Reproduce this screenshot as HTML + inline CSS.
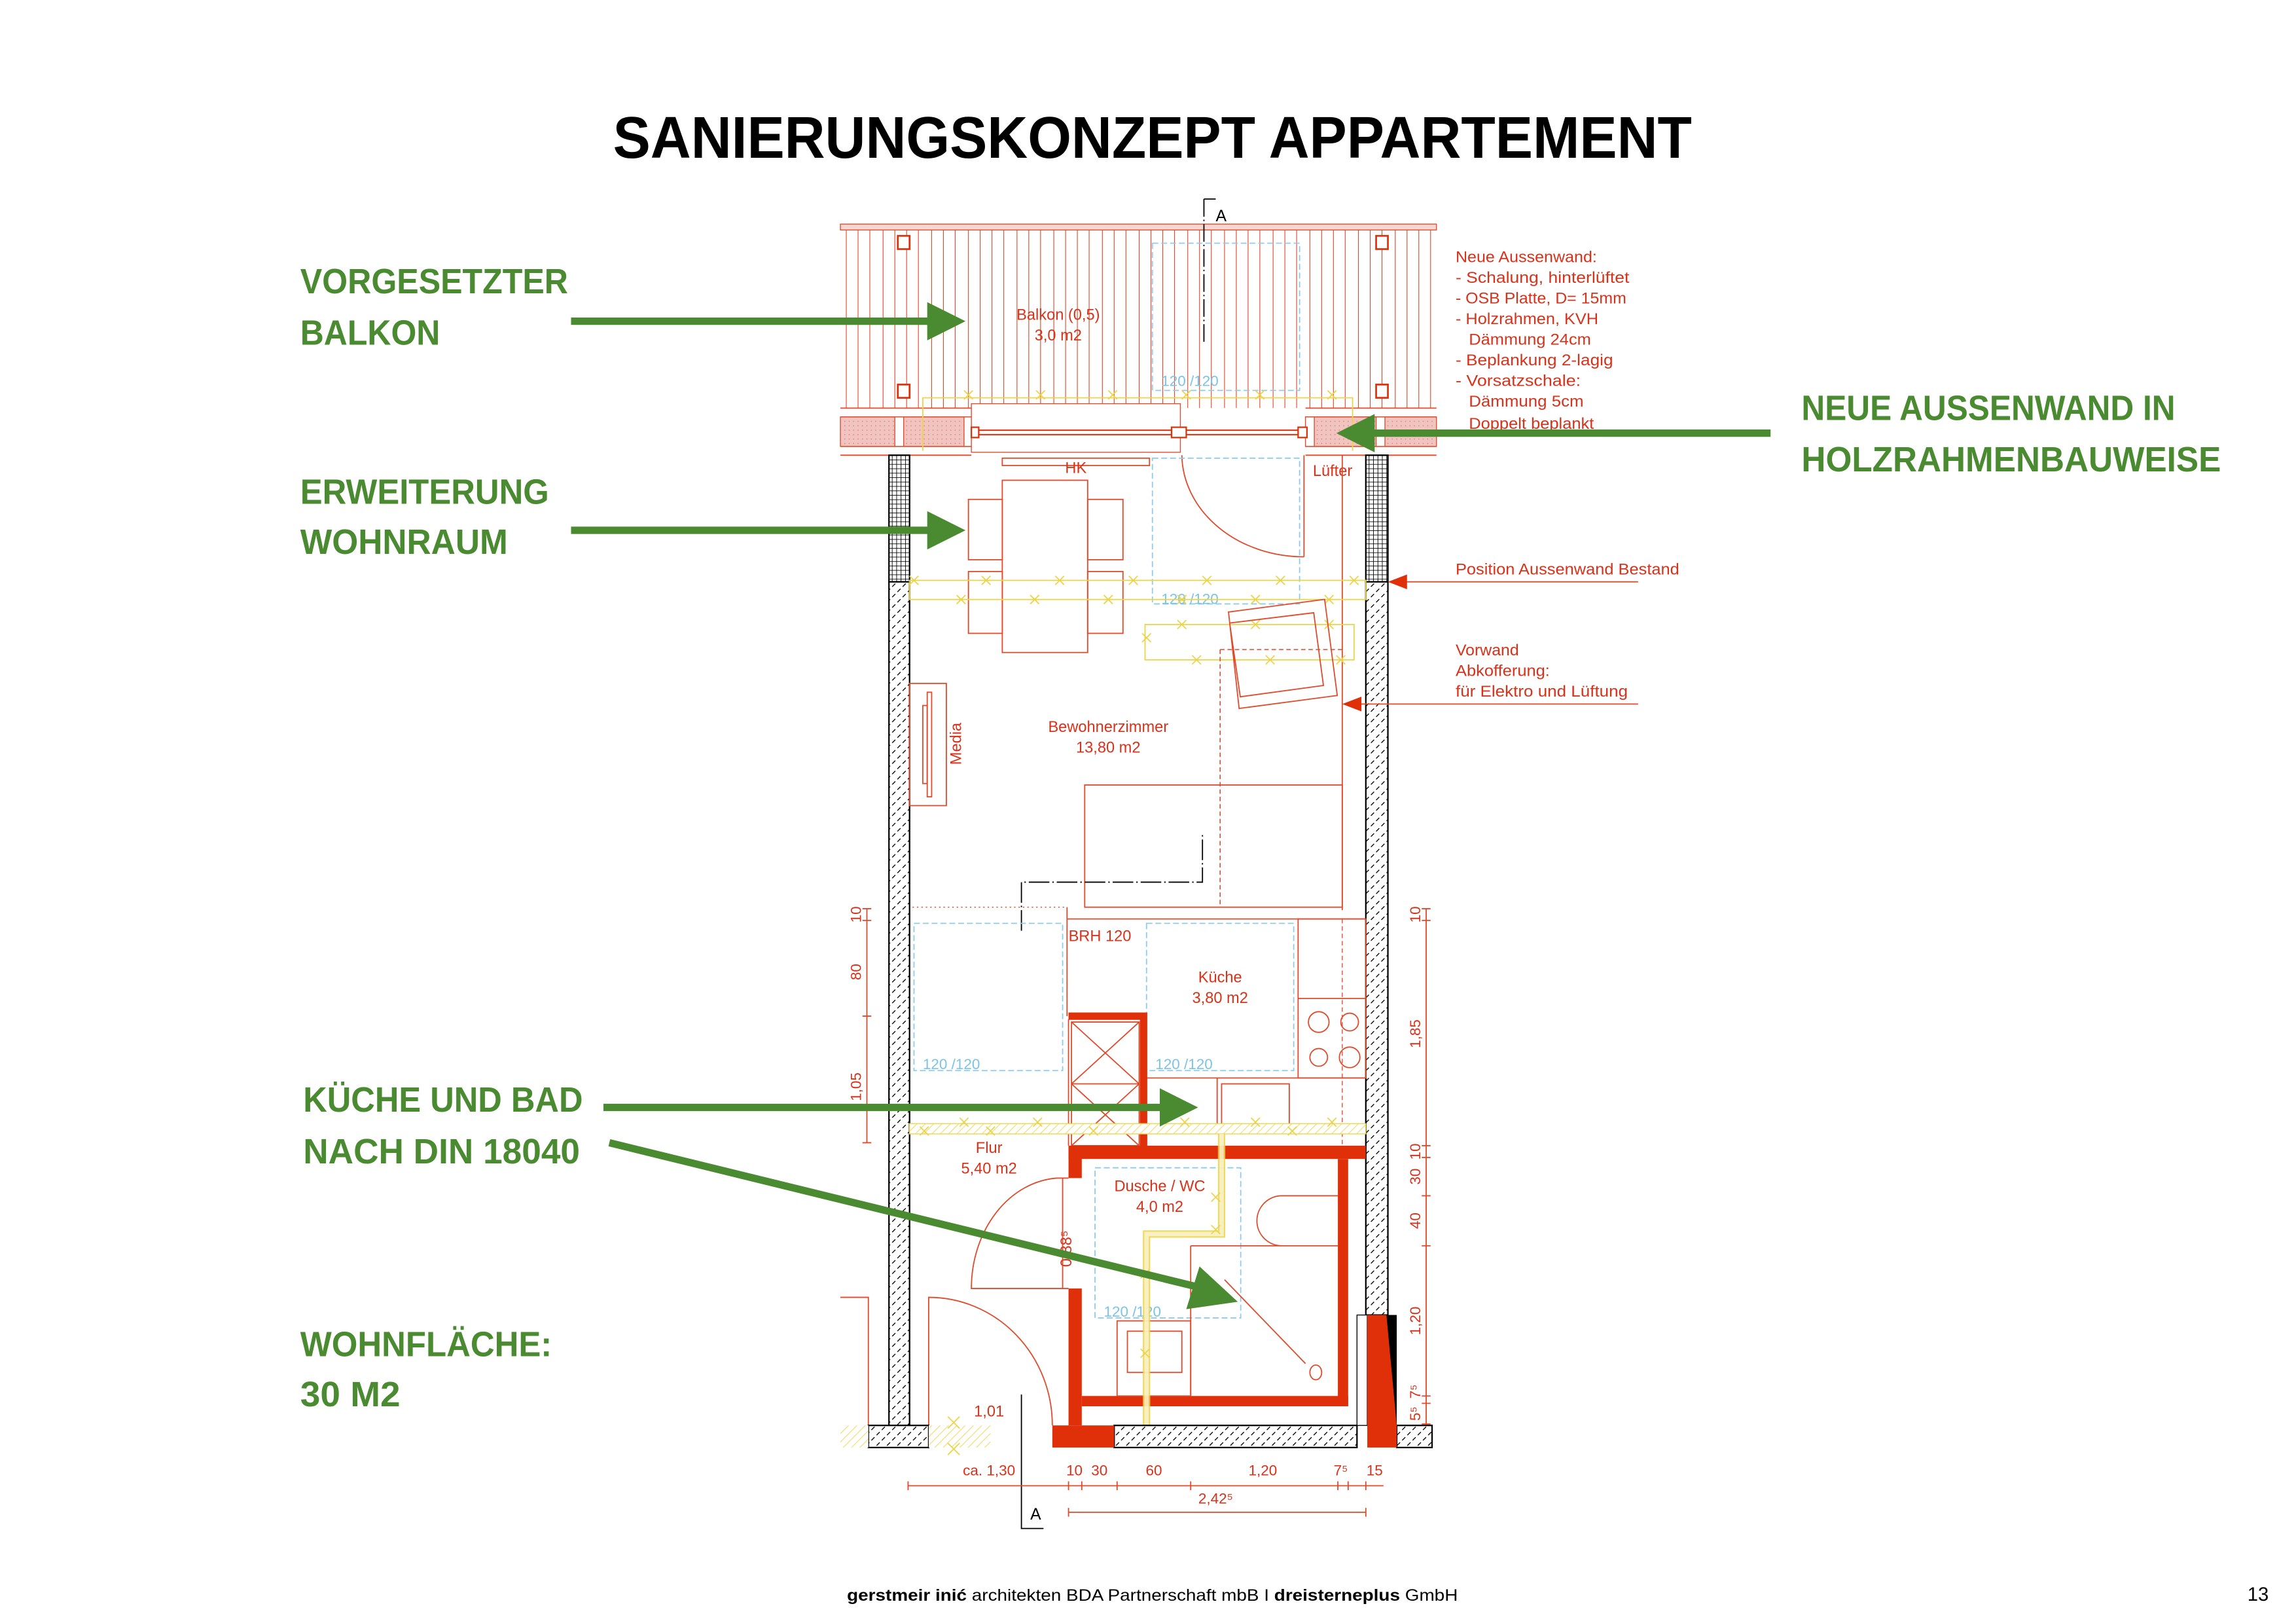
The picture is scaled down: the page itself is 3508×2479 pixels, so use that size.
<!DOCTYPE html>
<html><head><meta charset="utf-8"><style>
html,body{margin:0;padding:0;background:#fff}
svg{display:block}
text{font-family:"Liberation Sans Narrow","Liberation Sans",sans-serif}
.g{fill:#4a8a30;font-weight:bold;font-size:24px}
.r{fill:#d8321a;font-size:10.5px}
.rs{fill:#d8321a;font-size:10px}
.b{fill:#7cc3e6;font-size:10px}
.ln{stroke:#e04a2a;stroke-width:0.8;fill:none}
.bl{stroke:#8fcbea;stroke-width:0.8;fill:none;stroke-dasharray:4 2}
.y{stroke:#ecd44a;stroke-width:0.8;fill:none}
</style></head><body>
<svg width="3508" height="2479" viewBox="0 0 1560 1102" xmlns="http://www.w3.org/2000/svg">
<defs>
<pattern id="h" width="5" height="5" patternUnits="userSpaceOnUse" patternTransform="rotate(45)">
<rect width="5" height="5" fill="#fff"/><line x1="0" y1="0" x2="0" y2="5" stroke="#000" stroke-width="1.2" stroke-dasharray="3 2"/></pattern>
<pattern id="gr" width="3" height="3" patternUnits="userSpaceOnUse"><rect width="3" height="3" fill="#fff"/><path d="M0 0H3M0 0V3" stroke="#000" stroke-width="0.8"/></pattern>
<pattern id="pk" width="3" height="3" patternUnits="userSpaceOnUse"><rect width="3" height="3" fill="#f2c4c0"/><circle cx="1" cy="1" r="0.4" fill="#d88"/></pattern>
<pattern id="yh" width="4" height="4" patternUnits="userSpaceOnUse" patternTransform="rotate(45)"><rect width="4" height="4" fill="#fff"/><line x1="0" y1="0" x2="0" y2="4" stroke="#ecd44a" stroke-width="0.8"/></pattern>
</defs>

<text x="783" y="107" text-anchor="middle" font-family="Liberation Sans" font-weight="bold" font-size="40" textLength="733" lengthAdjust="spacingAndGlyphs" fill="#000">SANIERUNGSKONZEPT APPARTEMENT</text>

<text class="g" x="204" y="199" textLength="182" lengthAdjust="spacingAndGlyphs">VORGESETZTER</text>
<text class="g" x="204" y="234" textLength="95" lengthAdjust="spacingAndGlyphs">BALKON</text>
<text class="g" x="204" y="342" textLength="169" lengthAdjust="spacingAndGlyphs">ERWEITERUNG</text>
<text class="g" x="204" y="376" textLength="141" lengthAdjust="spacingAndGlyphs">WOHNRAUM</text>
<text class="g" x="206" y="755" textLength="190" lengthAdjust="spacingAndGlyphs">KÜCHE UND BAD</text>
<text class="g" x="206" y="790" textLength="188" lengthAdjust="spacingAndGlyphs">NACH DIN 18040</text>
<text class="g" x="204" y="921" textLength="171" lengthAdjust="spacingAndGlyphs">WOHNFLÄCHE:</text>
<text class="g" x="204" y="955" textLength="68" lengthAdjust="spacingAndGlyphs">30 M2</text>
<text class="g" x="1224" y="285" textLength="254" lengthAdjust="spacingAndGlyphs">NEUE AUSSENWAND IN</text>
<text class="g" x="1224" y="320" textLength="285" lengthAdjust="spacingAndGlyphs">HOLZRAHMENBAUWEISE</text>

<!-- balcony -->
<rect x="571" y="152" width="405" height="4" fill="#f6d6d0" stroke="#e04a2a" stroke-width="0.6"/>
<g stroke="#e04a2a" stroke-width="0.5">
<path d="M575 156V277M583 156V277M591 156V277M600 156V277M608 156V277M616 156V277M624 156V277M633 156V277M641 156V277M649 156V277M658 156V277M666 156V277M674 156V277M682 156V277M691 156V277M699 156V277M707 156V277M716 156V277M724 156V277M732 156V277M740 156V277M749 156V277M757 156V277M765 156V277M774 156V277M782 156V277M790 156V277M798 156V277M807 156V277M815 156V277M823 156V277M832 156V277M840 156V277M848 156V277M856 156V277M865 156V277M873 156V277M881 156V277M890 156V277M898 156V277M906 156V277M914 156V277M923 156V277M931 156V277M939 156V277M948 156V277M956 156V277M964 156V277M972 156V277"/>
</g>
<rect x="610" y="160" width="8" height="9" fill="#fff" stroke="#e0300a" stroke-width="1.2"/>
<rect x="935" y="160" width="8" height="9" fill="#fff" stroke="#e0300a" stroke-width="1.2"/>
<rect x="610" y="261" width="8" height="9" fill="#fff" stroke="#e0300a" stroke-width="1.2"/>
<rect x="935" y="261" width="8" height="9" fill="#fff" stroke="#e0300a" stroke-width="1.2"/>
<text class="r" x="719" y="217" text-anchor="middle">Balkon (0,5)</text>
<text class="r" x="719" y="231" text-anchor="middle">3,0 m2</text>
<rect class="bl" x="783" y="165" width="100" height="100"/>
<text class="b" x="789" y="262">120 /120</text>
<path d="M818 135H826M818 135V232" stroke="#000" stroke-width="0.8" fill="none" stroke-dasharray="12 2 1 2"/>
<text x="826" y="150" font-size="11" fill="#000">A</text>

<!-- new wall band -->
<rect x="571" y="277" width="405" height="32" fill="#fff"/>
<path d="M571 277H660M887 277H976M571 309H660M887 309H976M571 283H660M887 283H976M571 303H660M887 303H976" class="ln"/>
<rect x="571" y="283" width="89" height="20" fill="url(#pk)" stroke="#e04a2a" stroke-width="0.6"/>
<rect x="887" y="283" width="89" height="20" fill="url(#pk)" stroke="#e04a2a" stroke-width="0.6"/>
<rect x="608" y="283" width="6" height="20" fill="#fff" stroke="#e04a2a" stroke-width="0.6"/>
<rect x="935" y="283" width="6" height="20" fill="#fff" stroke="#e04a2a" stroke-width="0.6"/>
<rect x="655" y="283" width="5" height="20" fill="#fff" stroke="#e04a2a" stroke-width="0.6"/>
<rect x="887" y="283" width="6" height="20" fill="#fff" stroke="#e04a2a" stroke-width="0.6"/>
<rect x="660" y="274" width="142" height="33" fill="#fff" stroke="#e04a2a" stroke-width="0.6"/>
<path d="M663 292H887M663 295H887" stroke="#e0300a" stroke-width="0.9"/>
<rect x="660" y="290" width="5" height="7" fill="#fff" stroke="#e0300a"/>
<rect x="796" y="290" width="10" height="7" fill="#fff" stroke="#e0300a"/>
<rect x="882" y="290" width="6" height="7" fill="#fff" stroke="#e0300a"/>
<path class="y" d="M627 306V270H919V306"/>
<g class="y"><path d="M655 265l6 6m0-6l-6 6M704 265l6 6m0-6l-6 6M753 265l6 6m0-6l-6 6M803 265l6 6m0-6l-6 6M853 265l6 6m0-6l-6 6M902 265l6 6m0-6l-6 6"/></g>

<!-- walls -->
<rect x="604" y="309" width="14" height="86" fill="url(#gr)" stroke="#000" stroke-width="1"/>
<rect x="928" y="309" width="15" height="86" fill="url(#gr)" stroke="#000" stroke-width="1"/>
<rect x="604" y="395" width="14" height="573" fill="url(#h)" stroke="#000" stroke-width="1"/>
<rect x="928" y="395" width="15" height="498" fill="url(#h)" stroke="#000" stroke-width="1"/>

<!-- living room -->
<rect class="ln" x="681" y="311" width="100" height="5"/>
<text class="r" x="731" y="321" text-anchor="middle">HK</text>
<text class="r" x="892" y="323">Lüfter</text>
<rect class="ln" x="681" y="326" width="58" height="117"/>
<rect class="ln" x="658" y="339" width="23" height="41"/>
<rect class="ln" x="658" y="388" width="23" height="42"/>
<rect class="ln" x="739" y="339" width="24" height="41"/>
<rect class="ln" x="739" y="388" width="24" height="42"/>
<path class="ln" d="M886 309V378M803 309A83 70 0 0 0 886 378"/>
<path class="ln" d="M912 309V618"/>
<rect class="bl" x="783" y="311" width="100" height="99"/>
<text class="b" x="789" y="410">120 /120</text>
<rect class="y" x="618" y="394" width="310" height="13"/>
<rect class="y" x="778" y="424" width="142" height="24"/>
<g class="y"><path d="M618 391l6 6m0-6l-6 6M667 391l6 6m0-6l-6 6M717 391l6 6m0-6l-6 6M767 391l6 6m0-6l-6 6M817 391l6 6m0-6l-6 6M867 391l6 6m0-6l-6 6M917 391l6 6m0-6l-6 6M650 404l6 6m0-6l-6 6M700 404l6 6m0-6l-6 6M750 404l6 6m0-6l-6 6M800 404l6 6m0-6l-6 6M850 404l6 6m0-6l-6 6M900 404l6 6m0-6l-6 6M800 421l6 6m0-6l-6 6M850 421l6 6m0-6l-6 6M900 421l6 6m0-6l-6 6M776 430l6 6m0-6l-6 6M810 445l6 6m0-6l-6 6M860 445l6 6m0-6l-6 6M908 445l6 6m0-6l-6 6"/></g>
<path class="ln" d="M834.7 415.5L900 406.9L908.6 472.2L841.9 481ZM835.5 423L892.6 416L899.2 465.4L842.7 473.1Z"/>
<path d="M829 441V616M829 441H912" stroke="#e04a2a" stroke-width="0.7" fill="none" stroke-dasharray="3 2"/>
<rect class="ln" x="618" y="464" width="25" height="83"/>
<rect class="ln" x="627" y="479" width="3" height="53"/>
<rect class="ln" x="630" y="470" width="3" height="71"/>
<text class="r" transform="translate(653 505) rotate(-90)" text-anchor="middle">Media</text>
<text class="r" x="753" y="497" text-anchor="middle">Bewohnerzimmer</text>
<text class="r" x="753" y="511" text-anchor="middle">13,80 m2</text>
<rect class="ln" x="737" y="533" width="175" height="83"/>
<path d="M694 632V599H817V567" stroke="#000" stroke-width="0.8" fill="none" stroke-dasharray="14 2 1 2"/>
<path d="M620 616H725" stroke="#e04a2a" stroke-width="0.6" stroke-dasharray="1 2"/>
<path class="ln" d="M725 616V690M725 624H928"/>

<!-- kitchen -->
<rect class="bl" x="621" y="627" width="101" height="100"/>
<text class="b" x="627" y="726">120 /120</text>
<rect class="bl" x="779" y="627" width="100" height="100"/>
<text class="b" x="785" y="726">120 /120</text>
<text class="r" x="726" y="639">BRH 120</text>
<text class="r" x="829" y="667" text-anchor="middle">Küche</text>
<text class="r" x="829" y="681" text-anchor="middle">3,80 m2</text>
<rect class="ln" x="882" y="624" width="46" height="108"/>
<path class="ln" d="M882 678H928"/>
<circle class="ln" cx="896" cy="694" r="7"/><circle class="ln" cx="917" cy="694" r="6"/>
<circle class="ln" cx="896" cy="718" r="6"/><circle class="ln" cx="917" cy="718" r="7"/>
<path d="M912 624V777" stroke="#e04a2a" stroke-width="0.6" stroke-dasharray="3 2"/>
<path class="ln" d="M777 732H928M827 732V765"/>
<rect class="ln" x="830" y="736" width="46" height="29"/>
<!-- shaft -->
<path d="M726 690H777V778" stroke="#e0300a" stroke-width="5" fill="none"/>
<path class="ln" d="M726 692V778M728 694H774V736H728ZM728 694L774 736M774 694L728 736M728 736H774V778H728ZM728 736L774 778M774 736L728 778"/>
<rect x="618" y="763" width="310" height="7" fill="url(#yh)" stroke="#ecd44a" stroke-width="0.6"/>
<g class="y"><path d="M625 765l6 6m0-6l-6 6M652 759l6 6m0-6l-6 6M670 765l6 6m0-6l-6 6M702 759l6 6m0-6l-6 6M740 765l6 6m0-6l-6 6M802 759l6 6m0-6l-6 6M850 759l6 6m0-6l-6 6M875 765l6 6m0-6l-6 6M902 759l6 6m0-6l-6 6"/></g>
<text class="r" x="672" y="783" text-anchor="middle">Flur</text>
<text class="r" x="672" y="797" text-anchor="middle">5,40 m2</text>

<!-- bathroom -->
<g fill="#e0300a">
<rect x="726" y="778" width="202" height="9"/>
<rect x="726" y="778" width="9" height="22"/>
<rect x="726" y="875" width="9" height="93"/>
<rect x="909" y="787" width="7" height="168"/>
<rect x="735" y="948" width="181" height="7"/>
</g>
<rect class="bl" x="744" y="793" width="99" height="102"/>
<text class="b" x="750" y="894">120 /120</text>
<text class="r" x="788" y="809" text-anchor="middle">Dusche / WC</text>
<text class="r" x="788" y="823" text-anchor="middle">4,0 m2</text>
<path class="ln" d="M909 812H871A17 17 0 0 0 871 846H909M809 846V948M809 846H909M832 869L887 926"/>
<ellipse class="ln" cx="894" cy="932" rx="4" ry="5"/>
<rect class="ln" x="759" y="897" width="50" height="51"/>
<rect class="ln" x="766" y="904" width="37" height="28"/>
<path d="M830 770V838H779V968" stroke="#ecd44a" stroke-width="5" fill="none" opacity="0.85"/>
<path d="M830 770V838H779V968" stroke="#fff" stroke-width="3" fill="none" opacity="0.6"/>
<path class="y" d="M823 810l6 6m0-6l-6 6M823 832l6 6m0-6l-6 6M775 862l6 6m0-6l-6 6M775 916l6 6m0-6l-6 6"/>
<text class="r" transform="translate(728 848) rotate(-90)" text-anchor="middle">0,88⁵</text>
<!-- doors -->
<path class="ln" d="M726 800H718A62 75 0 0 0 660 875H726M722 800V875" stroke-dasharray="none"/>
<path class="ln" d="M590 968V881H571M631 968V881A84 87 0 0 1 715 968"/>
<!-- bottom wall -->
<rect x="590" y="968" width="41" height="15" fill="url(#h)" stroke="#000"/>
<rect x="757" y="968" width="165" height="15" fill="url(#h)" stroke="#000"/>
<rect x="949" y="968" width="24" height="15" fill="url(#h)" stroke="#000"/>
<rect x="715" y="968" width="42" height="15" fill="#e0300a"/>
<rect x="922" y="893" width="7" height="75" fill="#fff" stroke="#000" stroke-width="0.6"/>
<rect x="929" y="893" width="20" height="90" fill="#e0300a"/>
<path d="M942 893H949L949 968Z" fill="#000"/>
<rect x="571" y="968" width="19" height="15" fill="url(#yh)"/>
<rect x="631" y="968" width="42" height="15" fill="url(#yh)"/>
<path class="y" d="M644 962l8 8m0-8l-8 8M644 980l8 8m0-8l-8 8"/>
<text class="r" x="672" y="962" text-anchor="middle">1,01</text>
<path d="M694 947V1038H709" stroke="#000" stroke-width="0.8" fill="none"/>
<text x="700" y="1032" font-size="11" fill="#000">A</text>

<!-- dimensions -->
<g class="ln">
<path d="M589 617V776M586 617h6M586 625h6M586 690h6M586 776h6"/>
<path d="M969 617V967M966 617h6M966 625h6M966 778h6M966 786h6M966 812h6M966 846h6M966 948h6M966 953h6M966 967h6"/>
<path d="M617 1009H940M726 1027H928"/>
<path d="M617 1006v6M726 1006v6M735 1006v6M759 1006v6M809 1006v6M909 1006v6M916 1006v6M928 1006v6M726 1024v6M928 1024v6"/>
</g>
<g class="rs">
<text transform="translate(585 621) rotate(-90)" text-anchor="middle">10</text>
<text transform="translate(585 660) rotate(-90)" text-anchor="middle">80</text>
<text transform="translate(585 738) rotate(-90)" text-anchor="middle">1,05</text>
<text transform="translate(965 621) rotate(-90)" text-anchor="middle">10</text>
<text transform="translate(965 702) rotate(-90)" text-anchor="middle">1,85</text>
<text transform="translate(965 782) rotate(-90)" text-anchor="middle">10</text>
<text transform="translate(965 799) rotate(-90)" text-anchor="middle">30</text>
<text transform="translate(965 829) rotate(-90)" text-anchor="middle">40</text>
<text transform="translate(965 897) rotate(-90)" text-anchor="middle">1,20</text>
<text transform="translate(965 945) rotate(-90)" text-anchor="middle">7⁵</text>
<text transform="translate(965 960) rotate(-90)" text-anchor="middle">5⁵</text>
<text x="672" y="1002" text-anchor="middle">ca. 1,30</text>
<text x="730" y="1002" text-anchor="middle">10</text>
<text x="747" y="1002" text-anchor="middle">30</text>
<text x="784" y="1002" text-anchor="middle">60</text>
<text x="858" y="1002" text-anchor="middle">1,20</text>
<text x="911" y="1002" text-anchor="middle">7⁵</text>
<text x="934" y="1002" text-anchor="middle">15</text>
<text x="826" y="1021" text-anchor="middle">2,42⁵</text>
</g>

<!-- right annotations -->
<g class="r">
<text x="989" y="178" textLength="96" lengthAdjust="spacingAndGlyphs">Neue Aussenwand:</text>
<text x="989" y="192" textLength="118" lengthAdjust="spacingAndGlyphs">- Schalung, hinterlüftet</text>
<text x="989" y="206" textLength="116" lengthAdjust="spacingAndGlyphs">- OSB Platte, D= 15mm</text>
<text x="989" y="220" textLength="97" lengthAdjust="spacingAndGlyphs">- Holzrahmen, KVH</text>
<text x="998" y="234" textLength="83" lengthAdjust="spacingAndGlyphs">Dämmung 24cm</text>
<text x="989" y="248" textLength="107" lengthAdjust="spacingAndGlyphs">- Beplankung 2-lagig</text>
<text x="989" y="262" textLength="85" lengthAdjust="spacingAndGlyphs">- Vorsatzschale:</text>
<text x="998" y="276" textLength="78" lengthAdjust="spacingAndGlyphs">Dämmung 5cm</text>
<text x="998" y="291" textLength="85" lengthAdjust="spacingAndGlyphs">Doppelt beplankt</text>
<text x="989" y="390" textLength="152" lengthAdjust="spacingAndGlyphs">Position Aussenwand Bestand</text>
<text x="989" y="445" textLength="43" lengthAdjust="spacingAndGlyphs">Vorwand</text>
<text x="989" y="459" textLength="64" lengthAdjust="spacingAndGlyphs">Abkofferung:</text>
<text x="989" y="473" textLength="117" lengthAdjust="spacingAndGlyphs">für Elektro und Lüftung</text>
</g>
<path class="ln" d="M950 395H1113M920 478H1113"/>
<path d="M943 395l13-5v10z M912 478l13-5v10z" fill="#e0300a"/>

<!-- green arrows -->
<g fill="#4a8a30" stroke="#4a8a30">
<path d="M388 218H632" stroke-width="5"/><path d="M630 205L656 218L630 231Z" stroke="none"/>
<path d="M388 360H632" stroke-width="5"/><path d="M630 347L656 360L630 373Z" stroke="none"/>
<path d="M410 752H790" stroke-width="5"/><path d="M788 739L814 752L788 765Z" stroke="none"/>
<path d="M414 776L818 875" stroke-width="5"/><path d="M815 860L841 884L806 889Z" stroke="none"/>
<path d="M1203 294H932" stroke-width="5"/><path d="M934 281L908 294L934 307Z" stroke="none"/>
</g>

<!-- footer -->
<text x="783" y="1087" text-anchor="middle" font-size="11" fill="#000" font-family="Liberation Sans" textLength="415" lengthAdjust="spacingAndGlyphs"><tspan font-weight="bold">gerstmeir inić</tspan> architekten BDA Partnerschaft mbB I <tspan font-weight="bold">dreisterneplus</tspan> GmbH</text>
<text x="1527" y="1087" font-size="13" fill="#000" font-family="Liberation Sans">13</text>
</svg>
</body></html>
